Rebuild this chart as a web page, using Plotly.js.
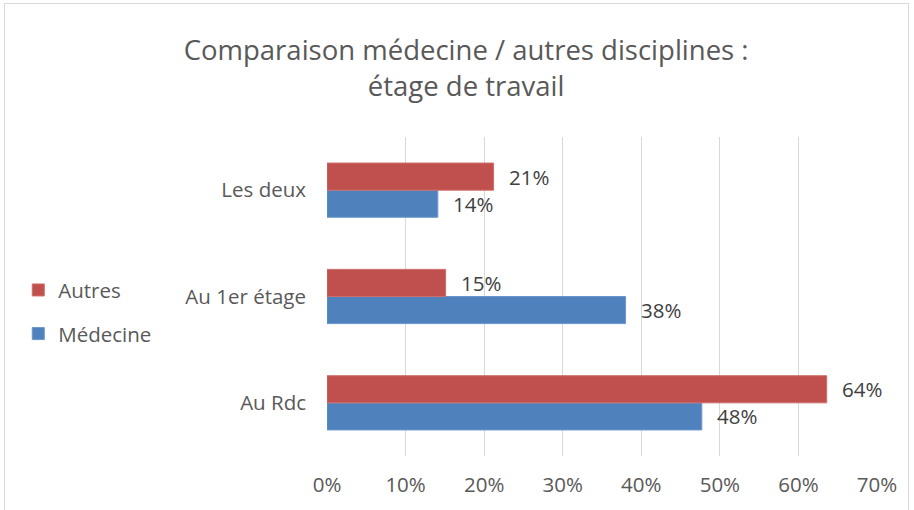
<!DOCTYPE html>
<html><head><meta charset="utf-8">
<script src="https://cdn.plot.ly/plotly-3.0.1.min.js"></script>
<style>body{margin:0;background:#fff}#frame{position:absolute;left:4px;top:3px;width:905px;height:520px;border:1px solid #d9d9d9;box-sizing:border-box;pointer-events:none}</style>
</head><body>
<div id="chart" style="width:914px;height:510px"></div>
<div id="frame"></div>
<script>
const categories = ['Au Rdc', 'Au 1er étage', 'Les deux'];
const medecine = [0.477, 0.380, 0.141];
const autres = [0.636, 0.151, 0.212];
const xTicks = [0, 0.1, 0.2, 0.3, 0.4, 0.5, 0.6, 0.7];

const FONT = 'Open Sans, Liberation Sans, sans-serif';
const FS = 20.5;
const traces = [
  {type:'bar', orientation:'h', name:'Médecine', legendgroup:'m', legendrank:2, y:categories, x:medecine,
   marker:{color:'#4f81bd', line:{color:'#6a96cc', width:1}}, hoverinfo:'none'},
  {type:'bar', orientation:'h', name:'Autres', legendgroup:'a', legendrank:1, y:categories, x:autres,
   marker:{color:'#c0504d', line:{color:'#cf6d6a', width:1}}, hoverinfo:'none'}
];
const ann = [];
categories.forEach((c,i)=>{
  ann.push({x:autres[i], y:c, text:Math.round(autres[i]*100)+'%', xanchor:'left', xshift:13, yshift:13.5, showarrow:false, font:{family:FONT,size:FS,color:'#404040'}});
  ann.push({x:medecine[i], y:c, text:Math.round(medecine[i]*100)+'%', xanchor:'left', xshift:13, yshift:-13.5, showarrow:false, font:{family:FONT,size:FS,color:'#404040'}});
});
const layout = {
  width:914, height:510,
  margin:{l:327, r:37, t:137, b:54},
  paper_bgcolor:'#fff', plot_bgcolor:'#fff',
  title:{text:'Comparaison médecine / autres disciplines :<br>étage de travail', x:0.51, xanchor:'center', y:0.882, yanchor:'middle',
         font:{family:FONT, size:27.5, color:'#595959'}},
  barmode:'group', bargap:0.49, bargroupgap:0,
  xaxis:{range:[0,0.7], tickvals:xTicks, tickformat:'.0%', showgrid:true, gridcolor:'#d9d9d9', gridwidth:1,
         zeroline:false, showline:false, ticks:'', tickfont:{family:FONT,size:FS,color:'#595959'}, ticklabelstandoff:14, fixedrange:true},
  yaxis:{type:'category', showgrid:false, zeroline:false, showline:false, ticks:'', ticklabelstandoff:20,
         tickfont:{family:FONT,size:FS,color:'#595959'}, fixedrange:true},
  showlegend:true,
  legend:{traceorder:'grouped', xref:'container', yref:'container', x:0.02, y:0.388, xanchor:'left', yanchor:'middle',
          font:{family:FONT,size:FS,color:'#595959'}, tracegroupgap:14, itemwidth:30},
  annotations:ann
};
Plotly.newPlot('chart', traces, layout, {displayModeBar:false, staticPlot:true});
</script>
</body></html>
